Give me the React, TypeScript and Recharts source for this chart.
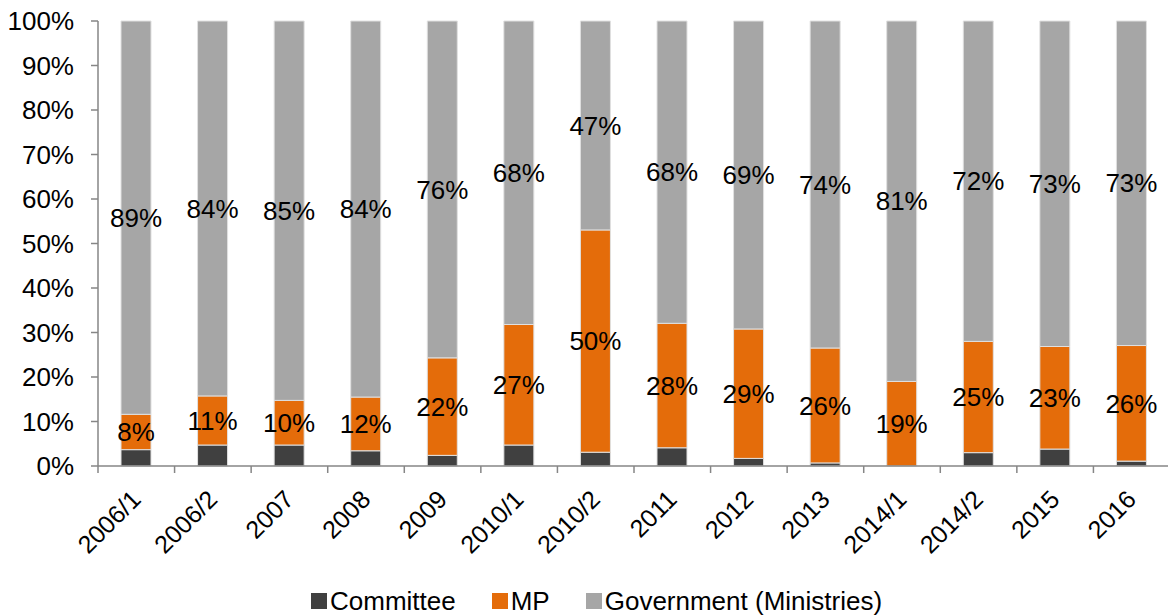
import { BarChart, Bar, XAxis, YAxis, Legend, LabelList } from 'recharts';

const categories = ['2006/1', '2006/2', '2007', '2008', '2009', '2010/1', '2010/2', '2011', '2012', '2013', '2014/1', '2014/2', '2015', '2016'];
const committee = [3.7, 4.7, 4.7, 3.4, 2.4, 4.7, 3.1, 4.1, 1.7, 0.7, 0, 3.0, 3.8, 1.1];
const mp = [8, 11, 10, 12, 22, 27, 50, 28, 29, 26, 19, 25, 23, 26];
const gov = [89, 84, 85, 84, 76, 68, 47, 68, 69, 74, 81, 72, 73, 73];
const yTicks = [0, 0.1, 0.2, 0.3, 0.4, 0.5, 0.6, 0.7, 0.8, 0.9, 1];
const seriesOrder = ['Committee', 'MP', 'Government (Ministries)'];

const data = categories.map((name, i) => ({
  name,
  committee: committee[i],
  mp: mp[i],
  gov: gov[i],
}));

const FONT = '"Liberation Sans", Arial, sans-serif';
const AXIS = '#868686';

const XTick = (props: any) => {
  const { x, y, payload } = props;
  const off = payload.offset ?? 0;
  const tx = x + 6;
  const ty = y + 28;
  return (
    <g>
      <line x1={x - off} x2={x - off} y1={y - 7} y2={y} stroke={AXIS} strokeWidth={1.5} />
      <text
        x={tx}
        y={ty}
        textAnchor="end"
        transform={`rotate(-45, ${tx}, ${ty})`}
        fontSize={25}
        fontFamily={FONT}
        fill="#000"
      >
        {payload.value}
      </text>
    </g>
  );
};

const LegendContent = ({ payload }: any) => {
  const items = [...(payload || [])].sort(
    (a: any, b: any) => seriesOrder.indexOf(a.value) - seriesOrder.indexOf(b.value)
  );
  return (
    <div style={{ display: 'flex', alignItems: 'center', height: 30, fontFamily: FONT, fontSize: 26, color: '#000', whiteSpace: 'nowrap' }}>
      {items.map((p: any, i: number) => (
        <div key={p.value} style={{ display: 'flex', alignItems: 'center', marginRight: i < items.length - 1 ? 36 : 0 }}>
          <span style={{ width: 16, height: 16, background: p.color, display: 'inline-block', marginRight: 3 }} />
          <span>{p.value}</span>
        </div>
      ))}
    </div>
  );
};

export default function App() {
  return (
    <div style={{ width: 1168, height: 616, overflow: 'hidden', background: '#fff' }}>
      <style>{'body{margin:0}'}</style>
      <BarChart
        width={1170}
        height={616}
        data={data}
        stackOffset="expand"
        margin={{ top: 21, right: 0, left: 0, bottom: 0 }}
      >
        <XAxis
          dataKey="name"
          height={150}
          tickLine={false}
          tickSize={7}
          tickMargin={0}
          interval={0}
          stroke={AXIS}
          strokeWidth={1.5}
          tick={<XTick />}
        />
        <YAxis
          width={98}
          domain={[0, 1]}
          ticks={yTicks}
          tickFormatter={(v: number) => `${Math.round(v * 100)}%`}
          tickSize={7}
          tickMargin={17}
          stroke={AXIS}
          strokeWidth={1.5}
          tick={{ fill: '#000', fontSize: 26, fontFamily: FONT }}
        />
        <Legend
          verticalAlign="middle"
          align="center"
          layout="horizontal"
          wrapperStyle={{ left: 311, top: 586, width: 'auto' }}
          content={<LegendContent />}
        />
        <Bar dataKey="committee" name="Committee" stackId="a" fill="#404040" barSize={30} stroke="#e0e0e0" strokeWidth={1} isAnimationActive={false} />
        <Bar dataKey="mp" name="MP" stackId="a" fill="#E46C0A" barSize={30} stroke="#e0e0e0" strokeWidth={1} isAnimationActive={false}>
          <LabelList dataKey="mp" position="center" formatter={(v: any) => `${v}%`} fill="#000" fontSize={26} fontFamily={FONT} />
        </Bar>
        <Bar dataKey="gov" name="Government (Ministries)" stackId="a" fill="#A6A6A6" barSize={30} stroke="#e0e0e0" strokeWidth={1} isAnimationActive={false}>
          <LabelList dataKey="gov" position="center" formatter={(v: any) => `${v}%`} fill="#000" fontSize={26} fontFamily={FONT} />
        </Bar>
      </BarChart>
    </div>
  );
}
